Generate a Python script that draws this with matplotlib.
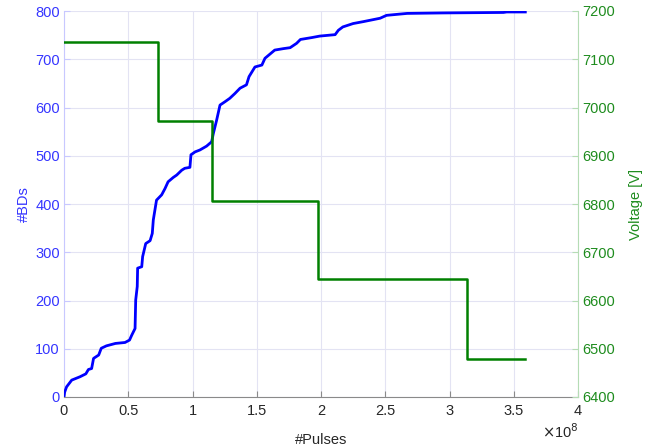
import matplotlib
matplotlib.use("Agg")
import matplotlib.pyplot as plt

plt.rcParams['font.family'] = ['Liberation Sans', 'DejaVu Sans']

# cumulative breakdown count vs. number of pulses (pulses in units of 1e8)
pulses = [0.0, 0.005, 0.02, 0.06, 0.125, 0.17, 0.19, 0.215, 0.23, 0.27, 0.29,
          0.33, 0.40, 0.475, 0.51, 0.527, 0.553, 0.558, 0.57, 0.573, 0.605,
          0.612, 0.636, 0.67, 0.687, 0.695, 0.72, 0.76, 0.786, 0.81, 0.85,
          0.877, 0.916, 0.94, 0.98, 0.988, 1.02, 1.058, 1.11, 1.149, 1.162,
          1.188, 1.214, 1.253, 1.29, 1.33, 1.37, 1.42, 1.44, 1.486, 1.54,
          1.564, 1.64, 1.707, 1.76, 1.81, 1.84, 1.93, 1.99, 2.11, 2.135,
          2.17, 2.25, 2.33, 2.46, 2.51, 2.67, 2.95, 3.42, 3.445, 3.59]
bds = [0, 10, 21, 35, 42, 48, 57, 59, 80, 87, 101,
       106, 111, 113, 118, 128, 142, 201, 229, 267, 270,
       291, 318, 324, 339, 367, 408, 419, 432, 446, 455,
       460, 470, 474, 476, 502, 508, 512, 520, 529, 546,
       574, 605, 612, 619, 629, 640, 647, 664, 684, 688,
       702, 719, 722, 724, 733, 741, 745, 748, 751, 760,
       767, 774, 778, 785, 791, 795, 796, 797, 798, 798]

# voltage program: step edges (pulses, 1e8) and level held after each edge
v_edges = [0.0, 0.73, 1.15, 1.975, 3.135, 3.59]
v_levels = [7135, 6972, 6806, 6644, 6479]

scale = 1e8
blue = '#0000ff'
blue_txt = '#3535ff'
green = '#008000'
green_txt = '#1e8c1e'
gray = '#262626'

fig = plt.figure(figsize=(6.45, 4.46), dpi=100)
ax = fig.add_axes([64/645, 49/446, 514/645, 386/446])
ax2 = ax.twinx()

ax.plot([p * scale for p in pulses], bds, color=blue, lw=2.0, zorder=3)

vx = []
vy = []
for i, lvl in enumerate(v_levels):
    vx += [v_edges[i] * scale, v_edges[i + 1] * scale]
    vy += [lvl, lvl]
ax2.plot(vx, vy, color=green, lw=1.8)

ax.set_xlim(0, 4e8)
ax.set_ylim(0, 800)
ax2.set_ylim(6400, 7200)
ax.set_xticks([i * 0.5e8 for i in range(9)])
ax.set_xticklabels(['0', '0.5', '1', '1.5', '2', '2.5', '3', '3.5', '4'])
ax.set_yticks(range(0, 801, 100))
ax2.set_yticks(range(6400, 7201, 100))

ax.grid(True, color='#e3e3f3', lw=0.8)
ax.set_axisbelow(True)

for a in (ax, ax2):
    a.spines['top'].set_visible(False)
ax.spines['left'].set_color('#c8c8ff')
ax.spines['bottom'].set_color('#8a8a8a')
ax.spines['right'].set_visible(False)
ax2.spines['left'].set_visible(False)
ax2.spines['bottom'].set_visible(False)
ax2.spines['right'].set_color('#b5dcb5')

ax.tick_params(axis='x', direction='in', colors='#8a8a8a', labelcolor=gray,
               labelsize=10.5, length=4, pad=5)
ax.tick_params(axis='y', direction='in', colors='#c8c8ff', labelcolor=blue_txt,
               labelsize=10.5, length=4, pad=3)
ax2.tick_params(axis='y', direction='in', colors='#b5dcb5', labelcolor=green_txt,
                labelsize=10.5, length=4, pad=3)

ax.set_xlabel('#Pulses', color=gray, fontsize=10.5, labelpad=11)
ax.set_ylabel('#BDs', color=blue_txt, fontsize=10.5, labelpad=3)
ax2.set_ylabel('Voltage [V]', color=green_txt, fontsize=10.5, labelpad=10)

fig.text(560/645, 1 - 432/446, r'$\times$10$^{8}$', color=gray, fontsize=10.5,
         ha='center', va='center')

fig.savefig('out.png', dpi=100)
